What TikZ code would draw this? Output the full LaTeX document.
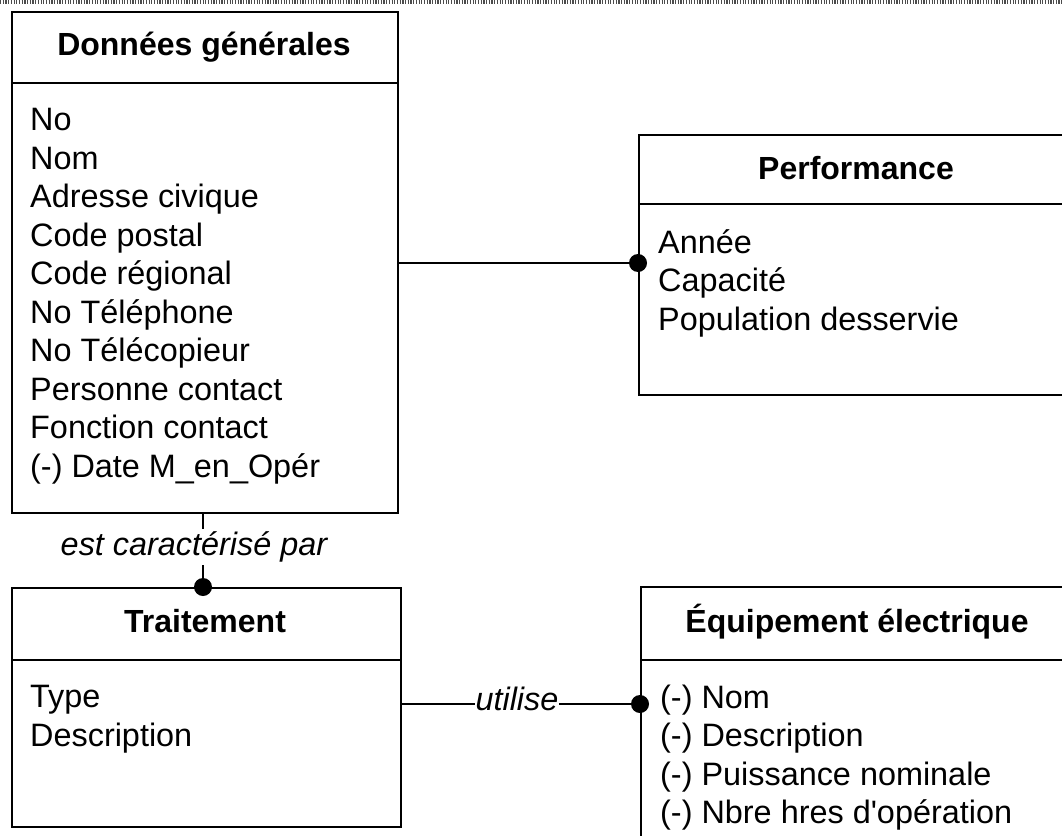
\documentclass[tikz,border=0pt]{standalone}
\usepackage{fontspec}
\setmainfont{Liberation Sans}
\begin{document}
\begin{tikzpicture}[x=1pt,y=-1pt,
  box/.style={draw, line width=2pt, inner sep=0pt, anchor=north west},
  hdr/.style={anchor=base, inner sep=0pt, font=\fontsize{32}{38}\selectfont\bfseries},
  attr/.style={anchor=base west, inner sep=0pt, font=\fontsize{32.4}{38}\selectfont},
  lbl/.style={inner sep=0pt, fill=white, font=\fontsize{32.4}{38}\selectfont\itshape},
  conn/.style={line width=2pt},
  dotr/.style={fill=black}]
\clip (0,0) rectangle (1062,835);
\useasboundingbox (0,0) rectangle (1062,835);
\fill[white] (0,0) rectangle (1062,835);
% scan border at top
\draw[black!70, line width=4pt, dash pattern=on 1.2pt off 1.5pt] (0,1.5) -- (1062,1.5);

% Donnees generales
\node[box, minimum width=386pt, minimum height=501pt] (dg) at (11,11) {};
\draw[conn] (11,83) -- (397,83);
\node[hdr] (dgh) at (204,55) {Données générales};
\node[attr] (dg1) at (30,130.5) {No};
\node[attr] (dg2) at (30,169) {Nom};
\node[attr] (dg3) at (30,207.5) {Adresse civique};
\node[attr] (dg4) at (30,246) {Code postal};
\node[attr] (dg5) at (30,284.5) {Code régional};
\node[attr] (dg6) at (30,323) {No Téléphone};
\node[attr] (dg7) at (30,361.5) {No Télécopieur};
\node[attr] (dg8) at (30,400) {Personne contact};
\node[attr] (dg9) at (30,438.5) {Fonction contact};
\node[attr] (dg10) at (30,477) {(-) Date M\_en\_Opér};

% Performance
\node[box, minimum width=437pt, minimum height=260pt] (pf) at (638,134) {};
\draw[conn] (638,204) -- (1075,204);
\node[hdr] (pfh) at (856,179) {Performance};
\node[attr] (pf1) at (658,253) {Année};
\node[attr] (pf2) at (658,291.5) {Capacité};
\node[attr] (pf3) at (658,330) {Population desservie};

% Traitement
\node[box, minimum width=389pt, minimum height=239pt] (tr) at (11,587) {};
\draw[conn] (11,660) -- (400,660);
\node[hdr] (trh) at (205,632) {Traitement};
\node[attr] (tr1) at (30,707.5) {Type};
\node[attr] (tr2) at (30,746) {Description};

% Equipement electrique
\node[box, minimum width=435pt, minimum height=300pt] (eq) at (640,586) {};
\draw[conn] (640,660) -- (1075,660);
\node[hdr] (eqh) at (857,632) {Équipement électrique};
\node[attr] (eq1) at (660,708) {(-) Nom};
\node[attr] (eq2) at (660,746.5) {(-) Description};
\node[attr] (eq3) at (660,785) {(-) Puissance nominale};
\node[attr] (eq4) at (660,823.5) {(-) Nbre hres d\textquotesingle opération};

% connectors
\coordinate (c1) at (dg.east |- 0,263);
\coordinate (c2) at (pf.west |- 0,263);
\draw[conn] (c1) -- (c2);
\fill[dotr] (c2) circle (9pt);

\coordinate (c3) at (203,512);
\coordinate (c4) at (203,587);
\draw[conn] (c3) -- (c4);
\node[lbl, inner ysep=3pt] (l1) at (194,547) {est caractérisé par};
\fill[dotr] (c4) circle (9pt);

\coordinate (c5) at (tr.east |- 0,704);
\coordinate (c6) at (eq.west |- 0,704);
\draw[conn] (c5) -- (c6);
\node[lbl, inner xsep=1pt, inner ysep=4pt] (l2) at (517,699) {utilise};
\fill[dotr] (c6) circle (9pt);
\end{tikzpicture}
\end{document}
